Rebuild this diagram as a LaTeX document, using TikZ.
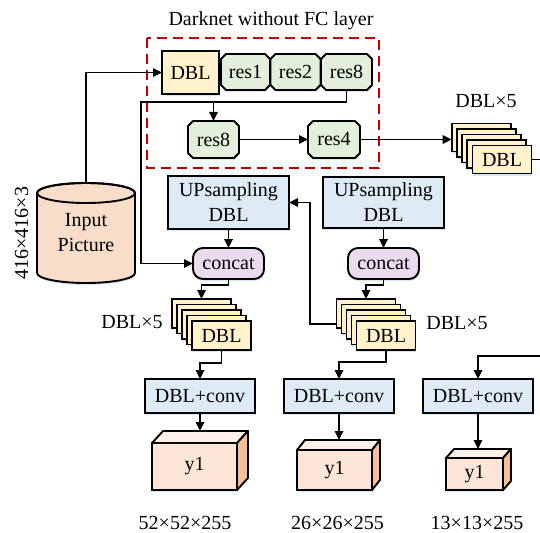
\documentclass[tikz,border=0pt]{standalone}
\usepackage{fontspec}
\setmainfont{Liberation Serif}
\usetikzlibrary{arrows.meta,calc,shadows}

\definecolor{dblfill}{HTML}{FFF2CC}
\definecolor{resfill}{HTML}{E2EFDA}
\definecolor{bluefill}{HTML}{DEEBF7}
\definecolor{catfill}{HTML}{EADCEE}
\definecolor{peach}{HTML}{FADCCA}
\definecolor{cubefront}{HTML}{FBE5D6}
\definecolor{cubetop}{HTML}{FDF1E9}
\definecolor{cubeside}{HTML}{F6BF98}
\definecolor{framered}{HTML}{C00000}
\definecolor{glow}{HTML}{9DC3E6}

\tikzset{
  txt/.style={font=\fontsize{20}{25}\selectfont},
  lbl/.style={txt, inner sep=0pt, anchor=base},
  softshadow/.style={drop shadow={shadow xshift=0.6pt, shadow yshift=-2pt, fill=glow, opacity=0.4}},
  box/.style={txt, draw=black, line width=1.9pt, inner sep=0pt, outer sep=0pt, align=center, softshadow},
  dblbox/.style={box, fill=dblfill},
  bluebox/.style={box, fill=bluefill},
  catbox/.style={box, fill=catfill, rounded corners=10pt, minimum width=71pt, minimum height=31pt},
  stackbox/.style={box, fill=dblfill, minimum width=59pt, minimum height=28pt},
  convbox/.style={bluebox, minimum width=110pt, minimum height=34pt},
  cubebox/.style={box, fill=cubefront},
  face/.style={draw=black, line width=1.9pt, line join=round},
  wire/.style={line width=1.7pt},
  conn/.style={wire, -{Triangle[length=9pt,width=8.5pt]}},
}

% residual block: chamfered outline with a named text node on top
% #1 name, #2 x, #3 y, #4 width, #5 height, #6 text
\newcommand{\resnode}[6]{%
  \draw[face, fill=resfill, softshadow]
    ({#2-#4/2+5},{#3-#5/2}) -- ({#2+#4/2-5},{#3-#5/2}) -- ({#2+#4/2},{#3-#5/2+5})
    -- ({#2+#4/2},{#3+#5/2-5}) -- ({#2+#4/2-5},{#3+#5/2}) -- ({#2-#4/2+5},{#3+#5/2})
    -- ({#2-#4/2},{#3+#5/2-5}) -- ({#2-#4/2},{#3-#5/2+5}) -- cycle;
  \node[txt, inner sep=0pt, outer sep=0pt, minimum width=#4pt, minimum height=#5pt] (#1) at (#2,#3) {#6};
}

\begin{document}
\begin{tikzpicture}[x=1pt,y=-1pt]
\useasboundingbox (0,0) rectangle (540,532);
\clip (0,0) rectangle (540,532);

% backbone frame
\draw[framered, line width=1.9pt, dash pattern=on 10pt off 6pt] (147,38) rectangle (379,168);
\node[lbl] (title) at (271,26) {Darknet without FC layer};

% backbone blocks
\node[dblbox, minimum width=57pt, minimum height=43pt] (dbl0) at (190.5,72.5) {DBL};
\resnode{res1}{245.5}{72}{49}{36}{res1}
\resnode{res2}{295.5}{72}{50}{36}{res2}
\resnode{r8a}{346.5}{72}{51}{36}{res8}
\resnode{r8b}{213.5}{139.5}{51}{37}{res8}
\resnode{r4}{334}{139.5}{52}{37}{res4}

% input cylinder
\path[fill=peach, draw=black, line width=1.9pt, softshadow]
  (37,193) -- (37,273) arc[start angle=180, end angle=360, x radius=49pt, y radius=10pt]
  -- (135,193) arc[start angle=0, end angle=180, x radius=49pt, y radius=10pt] -- cycle;
\draw[line width=1.9pt] (86,193) ellipse[x radius=49pt, y radius=10pt];
\coordinate (inptop) at (86,183);
\node[txt, align=center, inner sep=0pt] (inp) at (86,233) {Input\\Picture};
\node[lbl, rotate=90] (insize) at (28,233) {416×416×3};

% top-right DBL stack
\foreach \i in {0,...,3} {
  \node[stackbox] (sA\i) at ({481.2+5.2*\i},{137.5+5.5*\i}) {};
}
\node[stackbox] (sA4) at (502,159.5) {DBL};
\node[lbl] (sAlbl) at (486,107) {DBL×5};

% upsampling branches
\node[bluebox, minimum width=121pt, minimum height=53pt] (up1) at (228.5,202.5) {UPsampling\\DBL};
\node[bluebox, minimum width=121pt, minimum height=51pt] (up2) at (383.5,202.5) {UPsampling\\DBL};
\node[catbox] (cc1) at (228.5,263.5) {concat};
\node[catbox] (cc2) at (383.5,263.5) {concat};

\foreach \i in {0,...,3} {
  \node[stackbox, minimum height=29pt] (s1\i) at ({201.5+5*\i},{313.5+5.5*\i}) {};
}
\node[stackbox, minimum height=29pt] (s14) at (221.5,335.5) {DBL};
\node[lbl] (s1lbl) at (132,328) {DBL×5};

\foreach \i in {0,...,3} {
  \node[stackbox, minimum height=29pt] (s2\i) at ({366+5*\i},{313.5+5.5*\i}) {};
}
\node[stackbox, minimum height=29pt] (s24) at (386,335.5) {DBL};
\node[lbl] (s2lbl) at (457,329) {DBL×5};

% output heads
\node[convbox] (cv1) at (200,396) {DBL+conv};
\node[convbox] (cv2) at (339,396) {DBL+conv};
\node[convbox] (cv3) at (478,396) {DBL+conv};

% output cuboids
\node[cubebox, minimum width=85pt, minimum height=47pt] (ya) at (194.5,466.5) {y1};
\draw[face, fill=cubetop] (ya.north west) -- ++(11,-12) -- ++(85,0) -- (ya.north east) -- cycle;
\draw[face, fill=cubeside] (ya.north east) -- ++(11,-12) -- ++(0,47) -- (ya.south east) -- cycle;
\coordinate (yatop) at ($(ya.north)+(0,-12)$);

\node[cubebox, minimum width=75pt, minimum height=40pt] (yb) at (334.5,470) {y1};
\draw[face, fill=cubetop] (yb.north west) -- ++(8,-10) -- ++(75,0) -- (yb.north east) -- cycle;
\draw[face, fill=cubeside] (yb.north east) -- ++(8,-10) -- ++(0,40) -- (yb.south east) -- cycle;
\coordinate (ybtop) at ($(yb.north)+(0,-10)$);

\node[cubebox, minimum width=57pt, minimum height=32pt] (yc) at (474.5,474) {y1};
\draw[face, fill=cubetop] (yc.north west) -- ++(8,-9) -- ++(57,0) -- (yc.north east) -- cycle;
\draw[face, fill=cubeside] (yc.north east) -- ++(8,-9) -- ++(0,32) -- (yc.south east) -- cycle;
\coordinate (yctop) at ($(yc.north)+(0,-9)$);

\node[lbl] (ya-size) at (185,529) {52×52×255};
\node[lbl] (yb-size) at (337.5,529) {26×26×255};
\node[lbl] (yc-size) at (477,529) {13×13×255};

% connectors
\coordinate (jL) at (141,102);
\coordinate (outR) at (560,356);
\draw[conn] (inptop) |- (dbl0.west);
\draw[conn] (r8a.south) |- (jL) |- (cc1.west);
\draw[conn] (r8b.north |- jL) -- (r8b.north);
\draw[conn] (r8b.east) -- (r4.west);
\draw[conn] (r4.east) -- (r4.east -| sA0.west);
\draw[conn] (sA4.east) -| (outR) -| (cv3.north);

\draw[conn] (up1.south) -- (cc1.north);
\draw[conn] (cc1.south) -- ++(0,6) -| (s10.north);
\draw[conn] (s14.south) -- ++(0,13) -| (cv1.north);
\draw[conn] (cv1.south) -- (cv1.south |- yatop);

\draw[conn] (up2.south) -- (cc2.north);
\draw[conn] (cc2.south) -- ++(0,6) -| (s20.north);
\coordinate (s2w) at ($(s20.west)+(0,10.5)$);
\coordinate (jM) at (310,324);
\draw[conn] (s2w) -- (jM) |- (up1.east);
\draw[conn] (s24.south) -- ++(0,12) -| (cv2.north);
\draw[conn] (cv2.south) -- (cv2.south |- ybtop);

\draw[conn] (cv3.south) -- (cv3.south |- yctop);
\end{tikzpicture}
\end{document}
